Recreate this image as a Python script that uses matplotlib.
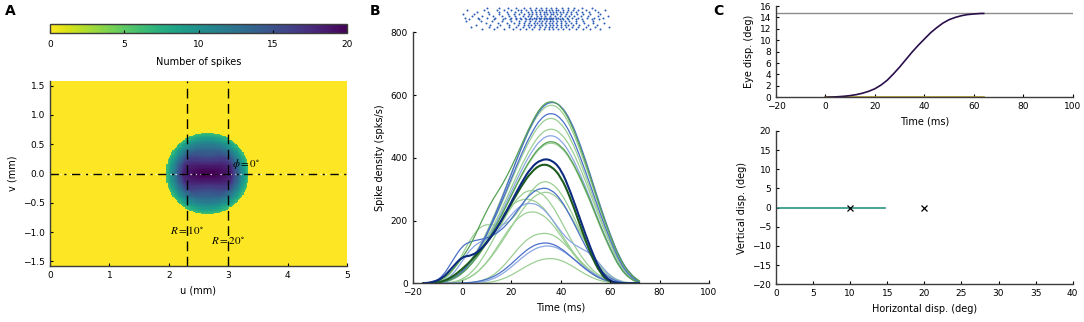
import numpy as np
import matplotlib.pyplot as plt
from matplotlib.path import Path
from matplotlib.patches import PathPatch

plt.rcParams['font.size'] = 6.5
plt.rcParams['axes.labelsize'] = 7
plt.rcParams['mathtext.fontset'] = 'stix'
plt.rcParams['axes.linewidth'] = 1.0
plt.rcParams['axes.edgecolor'] = '#3c3c3c'
plt.rcParams['xtick.direction'] = 'in'
plt.rcParams['ytick.direction'] = 'in'
plt.rcParams['xtick.major.size'] = 2.5
plt.rcParams['ytick.major.size'] = 2.5
plt.rcParams['xtick.major.width'] = 0.8
plt.rcParams['ytick.major.width'] = 0.8

# ---- panel A data: spike count map on the collicular map
blob_u = 2.65
blob_v = 0.0
blob_edge = 0.7
blob_radii = [0, 0.1, 0.2, 0.3, 0.4, 0.5, 0.6, 0.7]
prof_h = [20, 20, 19.5, 19, 18, 14, 10, 6]     # counts along u through centre
prof_v = [20, 19, 17, 15, 13.5, 11.5, 9, 6]    # counts along v through centre
R_lines = [2.3, 3.0]

# ---- panel B data: spike density curves (spks/s) on a 4 ms grid
t_grid = [-16, -12, -8, -4, 0, 4, 8, 12, 16, 20, 24, 28, 32, 36, 40, 44, 48, 52, 56, 60, 64, 68, 72]

green_583 = [0, 2, 12, 40, 80, 130, 200, 262, 310, 370, 440, 510, 565, 583, 566, 513, 431, 338, 239, 152, 76, 29, 6]
blue_580 = [0, 0, 3, 12, 35, 75, 125, 192, 268, 350, 432, 505, 560, 580, 568, 520, 440, 345, 245, 155, 78, 30, 5]
lgreen_573 = [0, 0, 5, 15, 38, 78, 130, 198, 272, 352, 432, 502, 553, 572, 555, 500, 420, 330, 232, 145, 70, 25, 4]
blue_546 = [0, 0, 4, 14, 36, 74, 123, 188, 258, 335, 412, 478, 528, 545, 528, 478, 400, 312, 220, 138, 65, 22, 3]
lgreen_530 = [0, 0, 5, 16, 37, 74, 122, 185, 253, 328, 402, 466, 513, 530, 512, 462, 385, 298, 208, 128, 58, 18, 2]
lgreen_495 = [0, 0, 4, 14, 34, 68, 113, 172, 236, 306, 375, 435, 480, 495, 480, 435, 365, 285, 200, 125, 58, 18, 2]
lblue_474 = [0, 0, 3, 12, 31, 64, 107, 163, 226, 293, 360, 418, 460, 474, 458, 412, 345, 268, 185, 112, 50, 15, 1]
green_456 = [0, 0, 4, 13, 31, 63, 104, 158, 217, 282, 345, 400, 440, 455, 440, 398, 335, 262, 182, 110, 48, 14, 1]
lgreen_451 = [0, 0, 3, 12, 30, 62, 103, 157, 215, 279, 342, 396, 436, 450, 436, 394, 330, 258, 178, 106, 46, 13, 1]
lgreen_329 = [0, 0, 8, 35, 90, 150, 185, 188, 185, 200, 245, 295, 325, 322, 290, 232, 165, 100, 50, 18, 4, 0, 0]
blue_305 = [0, 3, 20, 70, 120, 135, 140, 150, 170, 205, 250, 288, 305, 300, 268, 212, 148, 88, 42, 15, 3, 0, 0]
lgreen_292 = [0, 0, 0, 2, 8, 22, 48, 85, 130, 180, 230, 270, 290, 290, 262, 215, 158, 102, 55, 24, 7, 1, 0]
lgreen_299 = [0, 0, 0, 3, 12, 35, 75, 130, 190, 245, 285, 299, 290, 255, 200, 140, 88, 48, 22, 8, 2, 0, 0]
lgreen_270 = [0, 0, 2, 10, 30, 70, 120, 170, 215, 250, 268, 268, 250, 210, 160, 110, 68, 36, 16, 5, 1, 0, 0]
lblue_257 = [0, 0, 5, 25, 70, 115, 135, 150, 180, 220, 250, 257, 245, 210, 165, 130, 112, 95, 60, 22, 5, 0, 0]
lgreen_230 = [0, 0, 0, 2, 8, 22, 48, 88, 138, 185, 218, 230, 222, 195, 152, 105, 64, 33, 14, 4, 1, 0, 0]
lgreen_161 = [0, 0, 0, 0, 0, 2, 8, 22, 48, 85, 123, 150, 160, 158, 138, 105, 70, 40, 18, 6, 1, 0, 0]
blue_130 = [0, 0, 0, 0, 1, 3, 8, 18, 36, 62, 92, 117, 129, 128, 112, 86, 58, 33, 15, 5, 1, 0, 0]
lblue_120 = [0, 0, 0, 0, 0, 1, 4, 12, 28, 52, 80, 104, 118, 120, 108, 85, 60, 37, 18, 6, 1, 0, 0]
lgreen_80 = [0, 0, 0, 0, 0, 0, 1, 4, 12, 26, 45, 63, 76, 80, 74, 58, 38, 20, 8, 2, 0, 0, 0]
navy_mean = [0, 3, 15, 50, 85, 88, 110, 150, 200, 260, 320, 370, 395, 395, 365, 290, 200, 112, 38, 6, 0, 0, 0]
dkgreen_mean = [0, 0, 5, 20, 45, 75, 110, 150, 200, 255, 310, 355, 380, 375, 340, 270, 180, 95, 30, 3, 0, 0, 0]

# spike raster (ms), one list per trial row, top to bottom
raster_rows = [
    [10, 15, 18.5, 22, 25, 27.5, 30, 32, 34, 36, 38, 40.5, 43, 45.5, 48.5, 52.5],
    [2, 9, 14, 17, 20, 22.5, 24, 26, 28, 29.5, 31, 32.5, 34, 35, 36.5, 38, 39, 41, 43, 45, 47, 50, 54, 58],
    [6, 10.5, 15, 18, 21.5, 24, 26.5, 28.5, 30, 31.5, 33, 34, 35.5, 37, 38, 39.5, 41, 42.5, 44, 46, 48.5,
     51.5, 55],
    [0.5, 5, 11, 15, 18.5, 21, 23, 25, 27, 28.5, 30, 31.5, 33, 34.5, 36, 37, 38.5, 40, 42, 44, 46.5, 49, 52, 56],
    [4, 8, 12.5, 16, 19, 21.5, 24.5, 26.5, 28, 30.5, 32, 33.5, 35.5, 37.5, 39.5, 41.5, 43.5, 45.5, 48, 51, 55, 59],
    [1, 6.5, 10, 13.5, 17.5, 20, 22, 23.5, 25.5, 27.5, 29, 30, 31, 32, 33, 34, 35, 36, 37, 38, 39, 40.5, 42.5,
     44.5, 47, 50.5, 53.5, 57],
    [3, 7, 13, 16.5, 19.5, 22, 24, 26, 27, 28.5, 30, 31.5, 33, 34.5, 35.5, 36.5, 38, 39.5, 41, 43, 46, 48.5,
     52.5, 55.5],
    [1.5, 7.5, 12, 16, 20, 23, 25.5, 27.5, 29.5, 31, 32.5, 34, 35.5, 37, 38.5, 40, 41.5, 43.5, 46, 49, 53],
    [9.5, 14.5, 18, 21, 23, 25, 27, 29, 30.5, 32, 33.5, 35, 36.5, 38, 40, 42, 44, 46, 49.5, 53, 57.5],
    [5.5, 11.5, 15.5, 19, 22.5, 25, 26.5, 28, 29.5, 31, 32.5, 34, 35.5, 37, 38.5, 40, 41.5, 43, 45, 47.5, 51, 54.5],
    [3.5, 11, 14, 19, 22, 24.5, 27, 29, 31.5, 33.5, 35, 36.5, 38, 40, 42, 44.5, 47, 50, 54, 59.5],
    [8, 13, 17, 20.5, 23.5, 26, 28.5, 31, 33, 35, 37, 39, 41, 43.5, 46, 49, 52, 56],
]
raster_levels = [877, 871, 865, 859, 853, 847, 841, 835, 829, 823, 817, 811]

# ---- panel C data: eye displacement
eye_t = [0, 2.5, 5, 7.5, 10, 12.5, 15, 17.5, 20, 22.5, 25, 27.5, 30, 32.5, 35, 37.5, 40, 42.5, 45, 47.5,
         50, 52.5, 55, 57.5, 60, 62.5, 64]
eye_h = [0, 0.04, 0.1, 0.18, 0.3, 0.47, 0.72, 1.05, 1.5, 2.15, 3.0, 4.1, 5.3, 6.6, 7.9, 9.1, 10.2, 11.3,
         12.2, 13.0, 13.6, 14.0, 14.3, 14.5, 14.6, 14.68, 14.7]
eye_v = [0] * len(eye_t)
target_amp = 14.7
target_x = [10, 20]
target_y = [0, 0]

W, H = 1084, 322
fig = plt.figure(figsize=(W / 100, H / 100), dpi=100)


def rect(x0, y0, x1, y1):
    return [x0 / W, 1 - y1 / H, (x1 - x0) / W, (y1 - y0) / H]


def clean(ax):
    ax.spines['top'].set_visible(False)
    ax.spines['right'].set_visible(False)


def smooth_line(ax, x, y, **kw):
    # draw sampled points as a smooth quadratic spline path
    pts = np.column_stack([x, y]).astype(float)
    mids = (pts[:-1] + pts[1:]) / 2
    verts = [pts[0], mids[0]]
    codes = [Path.MOVETO, Path.LINETO]
    for i in range(1, len(pts) - 1):
        verts += [pts[i], mids[i]]
        codes += [Path.CURVE3, Path.CURVE3]
    verts.append(pts[-1])
    codes.append(Path.LINETO)
    ax.add_patch(PathPatch(Path(verts, codes), fill=False, **kw))


# ================= A =================
axA = fig.add_axes(rect(50, 81, 347, 266))
cax = fig.add_axes(rect(50, 24, 347, 33))

uc = np.arange(0.01, 5, 0.02)
vc = np.arange(-1.57, 1.58, 0.02)
U, V = np.meshgrid(uc, vc)
du = U - blob_u
dv = V - blob_v
r = np.hypot(du, dv)
cos2 = np.where(r > 0, du ** 2 / np.maximum(r, 1e-9) ** 2, 1.0)
counts = np.interp(r, blob_radii, prof_h) * cos2 + np.interp(r, blob_radii, prof_v) * (1 - cos2)
counts[r > blob_edge] = 0

im = axA.imshow(counts, origin='lower', extent=[0, 5, -1.58, 1.58], cmap='viridis_r',
                vmin=0, vmax=20, aspect='auto', interpolation='nearest')
for x in R_lines:
    axA.axvline(x, color='k', lw=1.0, ls=(0, (7, 4)))
axA.axhline(0, color='white', lw=0.9, ls=(0, (1, 3)))
axA.axhline(0, color='k', lw=1.0, ls=(0, (6, 4, 1.5, 4)))
axA.text(2.02, -0.96, r'$R=10^{\circ}$', fontsize=8, va='center', ha='left')
axA.text(2.71, -1.16, r'$R=20^{\circ}$', fontsize=8, va='center', ha='left')
axA.text(3.07, 0.17, r'$\phi=0^{\circ}$', fontsize=8, va='center', ha='left')
axA.set_xlim(0, 5)
axA.set_ylim(-1.58, 1.58)
axA.set_xticks([0, 1, 2, 3, 4, 5])
axA.set_yticks([-1.5, -1.0, -0.5, 0.0, 0.5, 1.0, 1.5])
axA.set_xlabel('u (mm)')
axA.set_ylabel('v (mm)')
clean(axA)

cb = fig.colorbar(im, cax=cax, orientation='horizontal', ticks=[0, 5, 10, 15, 20])
cb.set_label('Number of spikes', labelpad=6)
cb.outline.set_linewidth(1.0)
cax.tick_params(direction='in', length=2, pad=5)

# ================= B =================
axB = fig.add_axes(rect(412.7, 32.3, 709, 283.3))
lgreen = '#9ccf94'
green = '#55a055'
blue = '#4a6fc8'
lblue = '#8aa6e3'
curves = [
    (lgreen_80, lgreen), (lgreen_161, lgreen), (lgreen_230, lgreen), (lgreen_270, lgreen),
    (lgreen_299, lgreen), (lgreen_292, lgreen), (lgreen_329, lgreen), (lgreen_451, lgreen),
    (lgreen_495, lgreen), (lgreen_530, lgreen), (lgreen_573, lgreen),
    (lblue_120, lblue), (lblue_257, lblue), (lblue_474, lblue),
    (blue_130, blue), (blue_305, blue), (blue_546, blue), (blue_580, blue),
    (green_456, green), (green_583, green),
]
for vals, col in curves:
    smooth_line(axB, t_grid, vals, color=col, lw=0.9)
smooth_line(axB, t_grid, dkgreen_mean, color='#1d5a1d', lw=1.5)
smooth_line(axB, t_grid, navy_mean, color='#0c2a7e', lw=1.5)

for row, lev in zip(raster_rows, raster_levels):
    axB.scatter(row, [lev] * len(row), s=2.0, color='#2a5cb5', lw=0, clip_on=False)

axB.set_xlim(-20, 100)
axB.set_ylim(0, 800)
axB.set_xticks([-20, 0, 20, 40, 60, 80, 100])
axB.set_yticks([0, 200, 400, 600, 800])
axB.set_xlabel('Time (ms)')
axB.set_ylabel('Spike density (spks/s)')
clean(axB)

# ================= C =================
axC1 = fig.add_axes(rect(776, 6, 1072.7, 97.3))
axC1.axhline(target_amp, color='#8c8c8c', lw=1.0)
axC1.plot(eye_t, eye_v, color='#b39b2a', lw=1.2)
axC1.plot(eye_t, eye_h, color='#2b0f4c', lw=1.2)
axC1.set_xlim(-20, 100)
axC1.set_ylim(0, 16)
axC1.set_xticks([-20, 0, 20, 40, 60, 80, 100])
axC1.set_yticks(range(0, 17, 2))
axC1.set_xlabel('Time (ms)')
axC1.set_ylabel('Eye disp. (deg)')
clean(axC1)

axC2 = fig.add_axes(rect(776, 131, 1072.7, 284.3))
axC2.plot(eye_h, eye_v, color='#2a9384', lw=1.2)
axC2.plot(target_x, target_y, ls='none', marker='x', color='k', ms=4, mew=0.9)
axC2.set_xlim(0, 40)
axC2.set_ylim(-20, 20)
axC2.set_xticks(range(0, 41, 5))
axC2.set_yticks(range(-20, 21, 5))
axC2.set_xlabel('Horizontal disp. (deg)')
axC2.set_ylabel('Vertical disp. (deg)')
clean(axC2)

for lab, x in [('A', 5), ('B', 370), ('C', 713)]:
    fig.text(x / W, 1 - 4 / H, lab, fontsize=10, fontweight='bold', va='top', ha='left')

fig.savefig('out.png', dpi=100)
